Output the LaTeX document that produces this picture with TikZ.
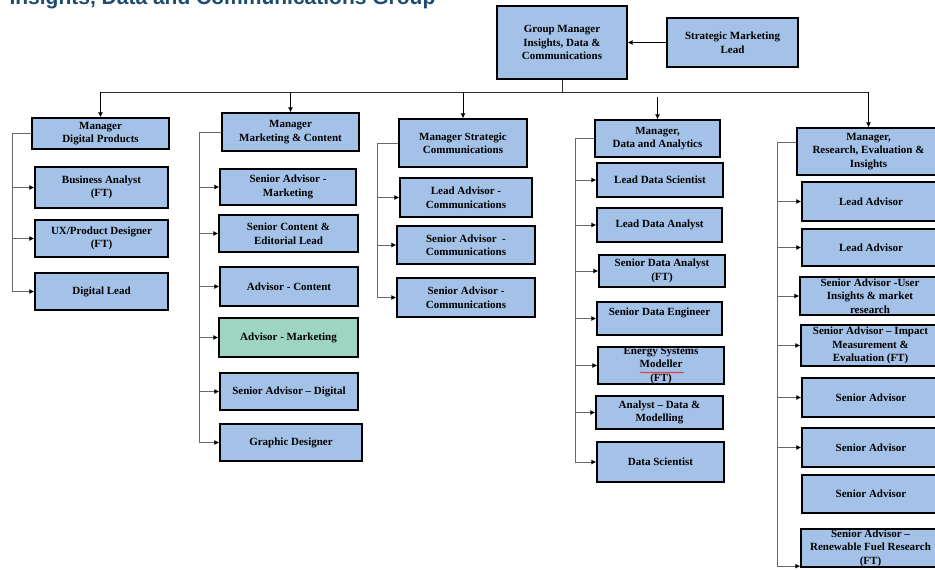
\documentclass[tikz,border=0pt]{standalone}
\usepackage{fontspec}
\setmainfont{Liberation Serif}
\newfontfamily\titlefont{Liberation Sans}
\usetikzlibrary{arrows.meta,decorations.pathmorphing}
\definecolor{BoxColor}{RGB}{164,194,232}
\definecolor{AdvisorColor}{RGB}{158,212,194}
\definecolor{TitleColor}{RGB}{30,75,110}
\definecolor{LinkColor}{RGB}{105,105,105}
\definecolor{BusColor}{RGB}{45,45,45}

\begin{document}
\begin{tikzpicture}[x=1pt, y=-1pt,
    box/.style={draw=black, line width=1.3pt, fill=BoxColor, align=center,
    inner sep=0pt, font=\bfseries\fontsize{11}{13.5}\selectfont},
    bus/.style={draw=BusColor, line width=0.9pt},
    drop/.style={draw=black, line width=0.9pt, -{Latex[length=5pt,width=5pt]}},
    bracket/.style={draw=LinkColor, line width=1pt},
    feed/.style={draw=LinkColor, line width=1pt, -{Latex[length=5pt,width=5pt,black]}}]

    \useasboundingbox (0,0) rectangle (935,570);

    \node[anchor=base west, text=TitleColor,
        font=\titlefont\bfseries\fontsize{21}{25}\selectfont] (title) at (6,5)
        {Insights, Data and Communications Group};

    \node[box, minimum width=130, minimum height=73] (gm) at (562,42.5)
        {Group Manager\\Insights, Data \&\\Communications};
    \node[box, minimum width=131, minimum height=49] (sml) at (732.5,42.5)
        {Strategic Marketing\\Lead};

    % Digital Products
    \node[box, minimum width=137, minimum height=31] (mdp) at (100.5,133.5) {Manager\\Digital Products};
    \node[box, minimum width=133, minimum height=41] (ba) at (101.5,187.5) {Business Analyst\\(FT)};
    \node[box, minimum width=133, minimum height=37] (ux) at (101.5,238.5) {UX/Product Designer\\(FT)};
    \node[box, minimum width=133, minimum height=37] (dl) at (101.5,291.5) {Digital Lead};

    % Marketing & Content
    \node[box, minimum width=137, minimum height=38] (mmc) at (290.5,132) {Manager\\Marketing \& Content};
    \node[box, minimum width=136, minimum height=36] (sam) at (288,187) {Senior Advisor -\\Marketing};
    \node[box, minimum width=139, minimum height=37] (scel) at (288.5,233.5) {Senior Content \&\\Editorial Lead};
    \node[box, minimum width=138, minimum height=39] (ac) at (289,286.5) {Advisor - Content};
    \node[box, fill=AdvisorColor, minimum width=139, minimum height=39] (am) at (288.5,337.5) {Advisor - Marketing};
    \node[box, minimum width=138, minimum height=37] (sad) at (289,391.5) {Senior Advisor – Digital};
    \node[box, minimum width=142, minimum height=37] (gd) at (291,442.5) {Graphic Designer};

    % Strategic Communications
    \node[box, minimum width=128, minimum height=48] (msc) at (463,143) {Manager Strategic\\Communications};
    \node[box, minimum width=132, minimum height=39] (lac) at (466,197.5) {Lead Advisor -\\Communications};
    \node[box, minimum width=138, minimum height=38] (sac1) at (466,245) {Senior Advisor ~-\\Communications};
    \node[box, minimum width=138, minimum height=39] (sac2) at (466,297.5) {Senior Advisor -\\Communications};

    % Data and Analytics
    \node[box, minimum width=125, minimum height=37] (mda) at (657.5,138.5) {Manager,\\Data and Analytics};
    \node[box, minimum width=126, minimum height=34] (lds) at (660,180) {Lead Data Scientist};
    \node[box, minimum width=125, minimum height=34] (lda) at (659.5,225) {Lead Data Analyst};
    \node[box, minimum width=126, minimum height=32] (sda) at (662,271) {Senior Data Analyst\\(FT)};
    \node[box, minimum width=125, minimum height=33] (sde) at (659.5,318.5) {Senior Data Engineer\\\mbox{}};
    \node[box, minimum width=126, minimum height=37] (esm) at (661,365.5) {Energy Systems\\Modeller\\(FT)};
    \node[box, minimum width=127, minimum height=33] (adm) at (659.5,412.5) {Analyst – Data \&\\Modelling};
    \node[box, minimum width=127, minimum height=40] (ds) at (660.5,462) {Data Scientist};

    % Research, Evaluation & Insights
    \node[box, minimum width=143, minimum height=47] (mrei) at (868.5,151.5) {Manager,\\Research, Evaluation \&\\Insights};
    \node[box, minimum width=138, minimum height=39] (la1) at (871,201.5) {Lead Advisor};
    \node[box, minimum width=138, minimum height=37] (la2) at (871,247.5) {Lead Advisor};
    \node[box, minimum width=140, minimum height=38] (sau) at (870,296) {Senior Advisor -User\\Insights \& market\\research};
    \node[box, minimum width=139, minimum height=41] (sai) at (870.5,345.5) {Senior Advisor – Impact\\Measurement \&\\Evaluation (FT)};
    \node[box, minimum width=138, minimum height=39] (sa1) at (871,397.5) {Senior Advisor};
    \node[box, minimum width=138, minimum height=39] (sa2) at (871,447.5) {Senior Advisor};
    \node[box, minimum width=138, minimum height=38] (sa3) at (871,494) {Senior Advisor};
    \node[box, minimum width=139, minimum height=38] (sar) at (870.5,548) {Senior Advisor –\\Renewable Fuel Research\\(FT)};

    \draw[red, line width=0.5pt, decorate,
        decoration={snake, amplitude=0.5pt, segment length=2.5pt}] (640,372.5) -- (684,372.5);

    \coordinate (busY) at (0,92);
    \coordinate (daTop) at (657.5,97);
    \coordinate (dpSpine) at (12,0);
    \coordinate (mcSpine) at (199,0);
    \coordinate (scSpine) at (377,0);
    \coordinate (daSpine) at (575,0);
    \coordinate (reSpine) at (777,0);
    \coordinate (sarIn) at ([yshift=1.5pt]sar.south west);

    \draw[drop] (sml) -- (gm);
    \draw[bus] (gm.south) -- (gm.south |- busY);
    \draw[bus] (mdp.north |- busY) -- (mrei.north |- busY);
    \foreach \m in {mdp, mmc, msc, mrei}
    \draw[drop] (\m.north |- busY) -- (\m.north);
    \draw[drop] (daTop) -- (mda.north);

    \draw[bracket] (mdp.west) -| (dpSpine |- dl.west);
    \draw[bracket] (mmc.west) -| (mcSpine |- gd.west);
    \draw[bracket] (msc.west) -| (scSpine |- sac2.west);
    \draw[bracket] (mda.west) -| (daSpine |- ds.west);
    \draw[bracket] ([yshift=9.5pt]mrei.west) -| (reSpine |- sarIn);

    \foreach \c in {ba, ux, dl}
    \draw[feed] (dpSpine |- \c.west) -- (\c.west);
    \foreach \c in {sam, scel, ac, am, sad, gd}
    \draw[feed] (mcSpine |- \c.west) -- (\c.west);
    \foreach \c in {lac, sac1, sac2}
    \draw[feed] (scSpine |- \c.west) -- (\c.west);
    \foreach \c in {lds, lda, sda, sde, esm, adm, ds}
    \draw[feed] (daSpine |- \c.west) -- (\c.west);
    \foreach \c in {la1, la2, sau, sai, sa1, sa2, sarIn}
    \draw[feed] (reSpine |- \c) -- (\c);

\end{tikzpicture}
\end{document}
